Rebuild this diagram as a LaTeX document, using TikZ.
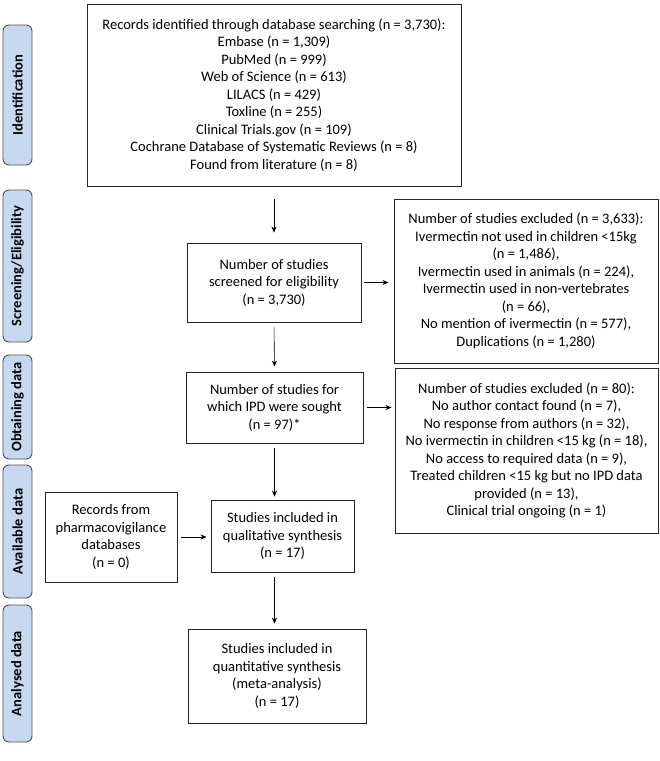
\documentclass[tikz,border=0pt]{standalone}
\usepackage{fontspec}
\setmainfont{Carlito}
\usetikzlibrary{arrows.meta}
\definecolor{stagefill}{HTML}{C6D9F1}
\definecolor{stageline}{HTML}{505050}
\begin{document}
\begin{tikzpicture}[x=1pt,y=-1pt]
\tikzstyle{stage}=[draw=stageline,fill=stagefill,line width=0.9pt,rounded corners=6pt,rotate=90,minimum height=29pt,inner sep=0pt,font=\fontsize{14.5}{16}\selectfont\bfseries]
\tikzstyle{box}=[draw=black!85,line width=0.9pt,align=center,inner sep=2pt,font=\fontsize{14.5}{17.5}\selectfont]
\tikzstyle{arrow}=[-{Stealth[length=6pt,width=5pt]},line width=0.6pt,shorten <=5pt,shorten >=5pt]
\useasboundingbox (0,0) rectangle (660,761);
% stages on the left
\node[stage,minimum width=140pt] (ident) at (17.5,95) {Identification};
\node[stage,minimum width=152pt] (screen) at (17.5,266) {Screening/Eligibility};
\node[stage,minimum width=104pt] (obtain) at (17.5,407) {Obtaining data};
\node[stage,minimum width=133pt] (avail) at (17.5,531.5) {Available data};
\node[stage,minimum width=137pt] (analysed) at (17.5,673.5) {Analysed data};
% flow boxes
\node[box,minimum width=374pt,minimum height=182pt] (records) at (274,95)
    {Records identified through database searching (n = 3,730):\\
     Embase (n = 1,309)\\
     PubMed (n = 999)\\
     Web of Science (n = 613)\\
     LILACS (n = 429)\\
     Toxline (n = 255)\\
     Clinical Trials.gov (n = 109)\\
     Cochrane Database of Systematic Reviews (n = 8)\\
     Found from literature (n = 8)};
\node[box,minimum width=174pt,minimum height=79pt] (screened) at (274,282.5)
    {Number of studies\\ screened for eligibility\\ (n = 3,730)};
\node[box,minimum width=264pt,minimum height=164pt] (excl1) at (526,281)
    {Number of studies excluded (n = 3,633):\\
     Ivermectin not used in children <15kg\\
     (n = 1,486),\\
     Ivermectin used in animals (n = 224),\\
     Ivermectin used in non-vertebrates\\
     (n = 66),\\
     No mention of ivermectin (n = 577),\\
     Duplications (n = 1,280)};
\node[box,minimum width=177pt,minimum height=71pt] (sought) at (274.5,407.5)
    {Number of studies for\\ which IPD were sought\\ (n = 97)*};
\node[box,minimum width=263pt,minimum height=165pt] (excl2) at (526.5,450.5)
    {Number of studies excluded (n = 80):\\
     No author contact found (n = 7),\\
     No response from authors (n = 32),\\
     No ivermectin in children <15 kg (n = 18),\\
     No access to required data (n = 9),\\
     Treated children <15 kg but no IPD data\\
     provided (n = 13),\\
     Clinical trial ongoing (n = 1)};
\node[box,minimum width=132pt,minimum height=90pt] (pharma) at (111,537)
    {Records from\\ pharmacovigilance\\ databases\\ (n = 0)};
\node[box,minimum width=143pt,minimum height=72pt] (quali) at (282.5,536)
    {Studies included in\\ qualitative synthesis\\ (n = 17)};
\node[box,minimum width=178pt,minimum height=94pt] (quanti) at (277,676)
    {Studies included in\\ quantitative synthesis\\ (meta-analysis)\\ (n = 17)};
% connectors
\draw[arrow,shorten <=13pt,shorten >=10pt] (records.south) -- (screened.north);
\draw[arrow,shorten <=3pt] (screened.east) -- (screened.east -| excl1.west);
\draw[arrow] (screened.south) -- (sought.north);
\draw[arrow,shorten <=4pt,shorten >=3pt] (sought.east) -- (sought.east -| excl2.west);
\draw[arrow,shorten >=3pt] (sought.south) -- (sought.south |- quali.north);
\draw[arrow,shorten <=4pt,shorten >=4pt] (pharma.east) -- (pharma.east -| quali.west);
\draw[arrow] (sought.south |- quali.south) -- (sought.south |- quanti.north);
\end{tikzpicture}
\end{document}
